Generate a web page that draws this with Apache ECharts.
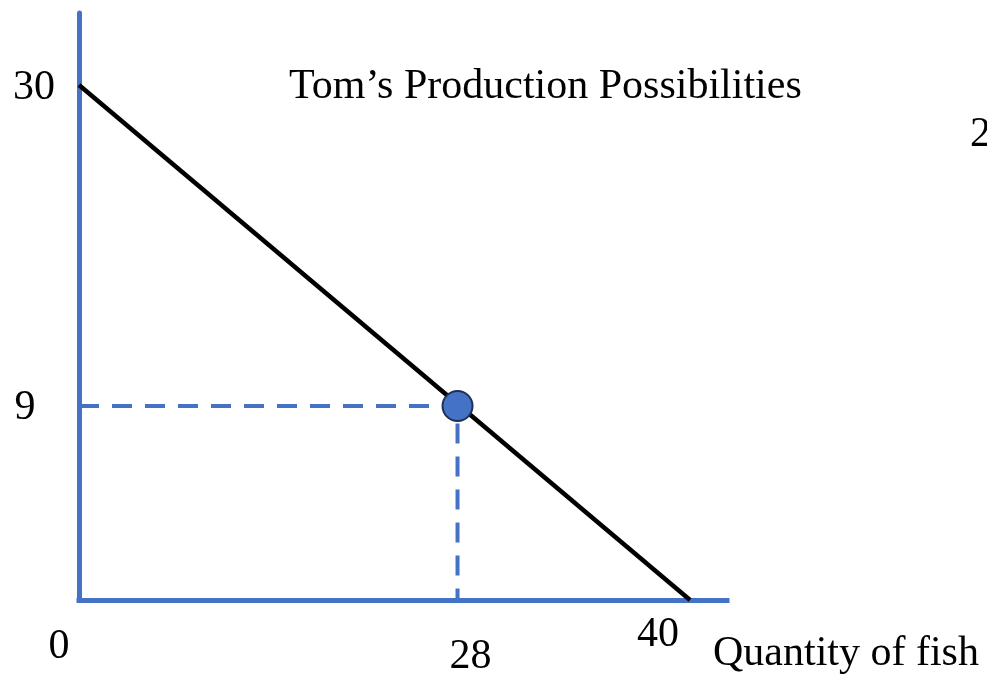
<!DOCTYPE html>
<html>
<head>
<meta charset="utf-8">
<script src="https://cdn.jsdelivr.net/npm/echarts@6/dist/echarts.min.js"></script>
<style>
  html, body { margin: 0; padding: 0; background: #fff; }
  #main { width: 987px; height: 675px; }
</style>
</head>
<body>
<div id="main"></div>
<script>
// axis extents (in drawn units of the sketch)
var xMax = 42.42;
var yMax = 34.19;

// production possibilities frontier end points
var ppfLine = [[0, 30], [40, 0]];

// chosen point, drawn where the sketch places it
var dotPoint = [24.78, 11.3];

// tick labels and the values where they sit
var xTickValues = [0, 24.78, 40];
var xTickLabels = ['0', '28', '40'];
var yTickValues = [30, 11.3];
var yTickLabels = ['30', '9'];

var blue = '#4472C4';
var serif = '"Liberation Serif", "Times New Roman", serif';

document.addEventListener('DOMContentLoaded', function() {
    var chartDom = document.getElementById('main');
    var myChart = echarts.init(chartDom);

    // label offsets (px) relative to their anchor on the axes
    var xOffsets = [[-20, 47], [13, 57], [-32, 35]];
    var yOffsets = [[-45, 3], [-54, 2]];

    var labelData = [];
    xTickValues.forEach(function(v, i) {
        labelData.push({
            value: [v, 0],
            label: { formatter: xTickLabels[i], offset: xOffsets[i] }
        });
    });
    yTickValues.forEach(function(v, i) {
        labelData.push({
            value: [0, v],
            label: { formatter: yTickLabels[i], offset: yOffsets[i] }
        });
    });

    var textStyle = { fontFamily: serif, fontSize: 42, fontWeight: 'normal', color: '#000' };

    var option = {
        animation: false,
        backgroundColor: '#ffffff',
        title: [
            { text: 'Tom\u2019s Production Possibilities', left: 289, top: 66, padding: 0, textStyle: textStyle },
            { text: 'Quantity of fish', left: 713, top: 633, padding: 0, textStyle: textStyle },
            { text: '2', left: 970, top: 114, padding: 0, textStyle: textStyle }
        ],
        grid: { left: 79, right: 260, top: 13, bottom: 75, containLabel: false },
        xAxis: {
            type: 'value', min: 0, max: xMax,
            axisLine: { show: true, onZero: false, lineStyle: { color: blue, width: 5, cap: 'square' } },
            axisTick: { show: false },
            axisLabel: { show: false },
            splitLine: { show: false }
        },
        yAxis: {
            type: 'value', min: 0, max: yMax,
            axisLine: { show: true, onZero: false, lineStyle: { color: blue, width: 5 } },
            axisTick: { show: false },
            axisLabel: { show: false },
            splitLine: { show: false }
        },
        series: [
            {
                name: 'guides',
                type: 'line',
                data: [[0, dotPoint[1]], dotPoint, [dotPoint[0], 0]],
                symbol: 'none',
                lineStyle: { color: blue, width: 4, type: [20, 13] },
                z: 2
            },
            {
                name: 'PPF',
                type: 'line',
                data: ppfLine,
                symbol: 'none',
                lineStyle: { color: '#000', width: 4.5 },
                z: 3
            },
            {
                name: 'point',
                type: 'scatter',
                data: [dotPoint],
                symbolSize: 30,
                itemStyle: { color: blue, opacity: 1, borderColor: '#1F2F55', borderWidth: 2 },
                z: 4
            },
            {
                name: 'ticks',
                type: 'scatter',
                data: labelData,
                symbolSize: 0,
                silent: true,
                itemStyle: { opacity: 1 },
                label: {
                    show: true,
                    position: 'inside',
                    fontFamily: serif,
                    fontSize: 42,
                    color: '#000'
                },
                z: 5
            }
        ]
    };

    option && myChart.setOption(option);
});
</script>
</body>
</html>
